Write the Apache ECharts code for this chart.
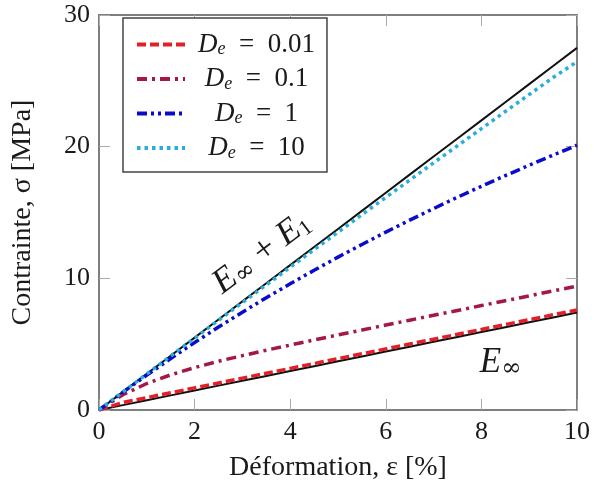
<!DOCTYPE html>
<html><head><meta charset="utf-8">
<script src="https://cdn.jsdelivr.net/npm/echarts@6/dist/echarts.min.js"></script>
<style>html,body{margin:0;padding:0;background:#fff}#c{width:593px;height:490px}</style>
</head><body><div id="c"></div>
<script>
const strain = [0,0.5,1,1.5,2,2.5,3,3.5,4,4.5,5,5.5,6,6.5,7,7.5,8,8.5,9,9.5,10];
const eInf   = [0,0.37,0.74,1.11,1.48,1.85,2.22,2.59,2.96,3.33,3.70,4.07,4.44,4.81,5.18,5.55,5.92,6.29,6.66,7.03,7.40];
const eTot   = [0,1.375,2.75,4.125,5.5,6.875,8.25,9.625,11,12.375,13.75,15.125,16.5,17.875,19.25,20.625,22,23.375,24.75,26.125,27.5];
const de001  = [0,0.57,0.94,1.31,1.68,2.05,2.42,2.79,3.16,3.53,3.90,4.27,4.64,5.01,5.38,5.75,6.12,6.49,6.86,7.23,7.60];
const de01   = [0,1.16,2.01,2.67,3.22,3.70,4.13,4.54,4.93,5.32,5.70,6.07,6.45,6.82,7.19,7.56,7.93,8.30,8.67,9.04,9.41];
const de1    = [0,1.35,2.65,3.91,5.12,6.30,7.43,8.53,9.59,10.61,11.61,12.57,13.51,14.42,15.30,16.16,16.99,17.80,18.59,19.36,20.11];
const de10   = [0,1.37,2.74,4.10,5.46,6.81,8.16,9.50,10.84,12.18,13.50,14.83,16.15,17.46,18.77,20.07,21.37,22.67,23.96,25.25,26.45];
const xTicks = [0,2,4,6,8,10];
const yTicks = [0,10,20,30];
const legendLabels = {'De001':'0.01','De01':'0.1','De1':'1','De10':'10'};

const pairs = ys => strain.map((x,i)=>[x,ys[i]]);
const FONT = 'Liberation Serif';
const TXT = '#1a1a1a';
const richSub = {
  i:{fontFamily:FONT,fontStyle:'italic',fontSize:27,lineHeight:28,color:TXT,align:'center'},
  s:{fontFamily:FONT,fontStyle:'italic',fontSize:18,lineHeight:12,verticalAlign:'bottom',color:TXT,align:'center'},
  n:{fontFamily:FONT,fontSize:27,lineHeight:28,color:TXT,align:'center'}
};
const bigRich = {
  i:{fontFamily:FONT,fontStyle:'italic',fontSize:35,lineHeight:36,color:TXT},
  s:{fontFamily:FONT,fontSize:22,lineHeight:14,verticalAlign:'bottom',color:TXT},
  inf:{fontFamily:'DejaVu Serif',fontSize:24,lineHeight:16,verticalAlign:'bottom',color:TXT},
  n:{fontFamily:FONT,fontSize:36,lineHeight:36,color:TXT}
};
const axisCommon = (extra) => Object.assign({
  type:'value', splitLine:{show:false},
  axisLine:{show:true,onZero:false,lineStyle:{color:'#555',width:1.5}},
  axisTick:{show:true,inside:true,length:11,lineStyle:{color:'#aaa',width:1}},
  axisLabel:{fontFamily:FONT,fontSize:26,color:TXT}
}, extra);
const hiddenPoint = {symbol:'circle',symbolSize:1,itemStyle:{color:'rgba(0,0,0,0)'},silent:true};

const chart = echarts.init(document.getElementById('c'));
chart.setOption({
  animation:false,
  backgroundColor:'#fff',
  grid:{left:99,right:14,top:15,bottom:80},
  legend:{
    orient:'vertical', left:123, top:18,
    data:['De001','De01','De1','De10'],
    backgroundColor:'#fff',
    borderColor:'#444', borderWidth:1.5, borderRadius:0,
    padding:[13,12,10,12],
    itemWidth:48, itemHeight:14, itemGap:7,
    itemStyle:{opacity:0},
    lineStyle:{width:4},
    formatter: n => '{i|D}{s|e}{n|\u2002=\u2002' + legendLabels[n] + '}',
    textStyle:{width:133, rich:richSub}
  },
  xAxis:[
    axisCommon({min:0,max:10,interval:2,name:'Déformation, ε [%]',nameLocation:'middle',nameGap:44,
      nameTextStyle:{fontFamily:FONT,fontSize:28,color:TXT},
      axisLabel:{fontFamily:FONT,fontSize:26,color:TXT,margin:9}}),
    axisCommon({min:0,max:10,interval:2,position:'top',axisLabel:{show:false}})
  ],
  yAxis:[
    axisCommon({min:0,max:30,interval:10,name:'Contrainte, σ [MPa]',nameLocation:'middle',nameGap:62,nameRotate:90,
      nameTextStyle:{fontFamily:FONT,fontSize:28,color:TXT},
      axisLabel:{fontFamily:FONT,fontSize:26,color:TXT,margin:9}}),
    axisCommon({min:0,max:30,interval:10,position:'right',axisLabel:{show:false}})
  ],
  series:[
    {name:'Etot',type:'line',data:pairs(eTot),symbol:'none',lineStyle:{color:'#111',width:2},z:3,
      markPoint:Object.assign({data:[{coord:[3.4,11.9],
        label:{show:true,position:'inside',rotate:37,formatter:'{i|E}{inf|∞}{n| + }{i|E}{s|1}',rich:bigRich}}]},hiddenPoint)},
    {name:'Einf',type:'line',data:pairs(eInf),symbol:'none',lineStyle:{color:'#111',width:2},z:3,
      markPoint:Object.assign({data:[{coord:[8.4,3.55],
        label:{show:true,position:'inside',formatter:'{i|E}{inf|∞}',rich:bigRich}}]},hiddenPoint)},
    {name:'De001',type:'line',data:pairs(de001),symbol:'none',z:4,
      itemStyle:{color:'#e3202a'},lineStyle:{color:'#e3202a',width:3.5,type:[9,4]}},
    {name:'De01',type:'line',data:pairs(de01),symbol:'none',z:4,
      itemStyle:{color:'#a3174c'},lineStyle:{color:'#a3174c',width:3.5,type:[10,5,3,5]}},
    {name:'De1',type:'line',data:pairs(de1),symbol:'none',z:4,
      itemStyle:{color:'#0b0bcc'},lineStyle:{color:'#0b0bcc',width:3.5,type:[10,4,3,4,3,4]}},
    {name:'De10',type:'line',data:pairs(de10),symbol:'none',z:4,
      itemStyle:{color:'#29aedb'},lineStyle:{color:'#29aedb',width:3.5,type:[3.5,4]}}
  ]
});
</script></body></html>
